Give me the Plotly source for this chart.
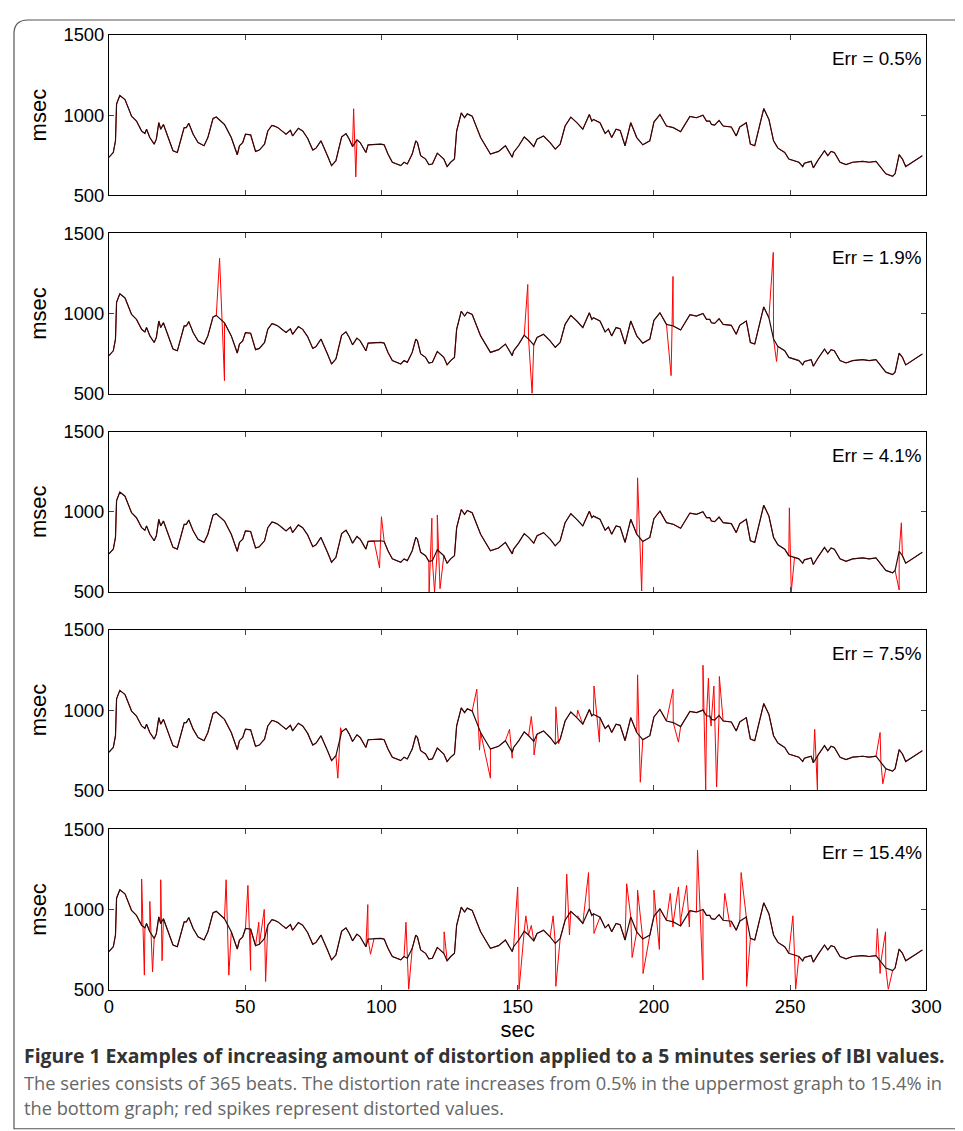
import plotly.graph_objects as go

# base IBI series (sec, msec)
base_t = [0,1.6,2.4,2.8,4,5.9,8.3,10.1,12,13.2,13.8,15,16.6,17.4,18.3,19,20,21.7,23.5,25.1,26,27.6,28.4,29.3,30.9,32.7,34.9,36.3,38.2,39.4,42.4,44.9,47.1,47.9,49.1,50.1,52,53.8,55.2,57.1,58.3,59.8,60.7,62,63.8,65,66.6,67.4,69.5,71.1,72.9,74.8,76,77.8,80.2,81.7,83.3,85.4,87,88.2,89.4,91,92.2,93.4,94.3,95.1,97.3,99.8,101,102.4,104,107.1,108.3,109.5,111.3,112.6,113.2,114.4,116.2,117.4,118.7,120.5,122.9,124.1,125.4,126.8,127.6,129.3,130.5,131.5,133.3,136.4,140,143,145.5,148,148.5,150.4,152.4,154,155.9,157.1,159.5,161.9,163.8,165.6,167.4,169.5,171.7,173.9,176.3,177.2,177.8,180.2,182.1,183.3,184.5,186.1,187.6,189.4,191.5,193.7,195.9,198.5,200,202.2,204.6,207.1,209.8,213.2,215.6,218,219.3,220.5,221.1,222.3,223.9,225.4,228.4,230.2,231.5,233.9,235.4,237,238.6,240.3,242.2,243.9,245.5,248,249.5,251.6,253.2,254.6,255.2,257.7,258.5,260.1,262.6,263.8,265,266.2,268.3,270.5,272.9,276.6,279,281.5,283.3,285.1,287.6,288.5,290,291.2,292.4,294.9,298.5]
base_v = [737,767,840,1070,1123,1097,994,963,901,885,912,860,819,850,953,912,942,860,778,767,829,922,922,949,881,829,809,860,979,988,942,860,753,809,829,881,877,774,782,819,901,936,932,922,897,881,905,870,918,901,856,782,794,840,747,685,716,864,885,850,804,846,829,788,767,815,819,819,815,757,706,685,706,695,757,840,829,747,726,691,695,763,726,679,706,726,901,1014,984,1008,994,860,757,774,809,737,767,809,864,840,804,850,870,829,788,819,932,988,953,912,1004,963,973,953,885,905,860,912,905,809,953,860,815,840,957,1004,932,922,897,992,984,1000,963,963,942,938,967,932,926,870,926,953,819,809,922,1041,973,840,794,767,726,716,706,679,700,712,671,716,778,747,774,767,706,691,706,712,706,712,675,634,619,634,753,726,679,706,747]

# distorted beats per panel (sec, msec)
spk1_t = [89.8,90.6]
spk1_v = [1040,615]
spk2_t = [40.6,42.4,153.7,155.3,206.3,207,243.8,245]
spk2_v = [1344,581,1181,500,612,1231,1381,700]
spk3_t = [99.3,100,117.5,118.5,119.5,120.5,121.5,194,195.5,249.7,250.4,290,290.8]
spk3_v = [650,969,500,960,500,980,520,1212,506,1025,500,512,931]
spk4_t = [84,85,135,136,140,147,148,155,156,164,165,172,178,180,194,195,207,209,218,219,220,221,222,223,224,259,260,283,284]
spk4_v = [575,890,1130,750,575,880,700,960,720,1020,790,1000,1150,800,1220,550,1130,800,1280,500,1200,900,1150,520,1210,880,500,860,540]
spk5_t = [12,13,15,16,19,19.5,43,44,51,52,55,57,57.5,95,96,109,110,123,124,150,150.5,153,155,163,164,168,169,172,176,178,190,192,194,196,200,202,206,207,209,210,212,213,216,218,226,228,232,234,251,252,282,283,285,286]
spk5_v = [1190,590,1050,610,1185,680,1185,590,1150,620,920,1000,550,1030,720,920,500,860,700,1140,500,960,900,960,520,1220,840,960,1230,850,1160,700,1120,600,1120,750,1100,890,1140,950,1150,890,1370,560,1100,890,1230,520,960,500,880,600,860,500]

labels = ["Err = 0.5%", "Err = 1.9%", "Err = 4.1%", "Err = 7.5%", "Err = 15.4%"]
spikes = [(spk1_t, spk1_v), (spk2_t, spk2_v), (spk3_t, spk3_v), (spk4_t, spk4_v), (spk5_t, spk5_v)]

S = 0.98
OX, OY = 12, 16
W = round((963 - OX) / S)
H = round((1131 - OY) / S)
def px(x): return ((x - OX) / S) / W
def py(y): return 1 - ((y - OY) / S) / H
def fs(s): return s / S

tops = [32, 230, 428, 626, 825]
ph = 160
fig = go.Figure()
for i, ((st, sv), lab) in enumerate(zip(spikes, labels)):
    n = "" if i == 0 else str(i + 1)
    pts = sorted(list(zip(base_t, base_v)) + list(zip(st, sv)))
    fig.add_trace(go.Scatter(x=[p[0] for p in pts], y=[p[1] for p in pts], mode="lines",
                             line=dict(color="#ff0000", width=1), xaxis="x" + n, yaxis="y" + n, showlegend=False))
    fig.add_trace(go.Scatter(x=base_t, y=base_v, mode="lines",
                             line=dict(color="#2a0a0a", width=1.2), xaxis="x" + n, yaxis="y" + n, showlegend=False))
    top = tops[i]
    dom = [py(top + ph), py(top)]
    last = i == 4
    fig.update_layout(**{
        "xaxis" + n: dict(domain=[px(108), px(926)], range=[0, 300], tickvals=[0, 50, 100, 150, 200, 250, 300],
                          showticklabels=last, ticks="inside", ticklen=5, mirror="ticks", showline=True,
                          linecolor="black", linewidth=1, showgrid=False, zeroline=False,
                          anchor="y" + n, title=dict(text="sec" if last else "", standoff=0),
                          tickfont=dict(size=fs(18), color="black")),
        "yaxis" + n: dict(domain=dom, range=[500, 1500], tickvals=[500, 1000, 1500], ticks="inside", ticklen=5,
                          mirror="ticks", showline=True, linecolor="black", linewidth=1, showgrid=False,
                          zeroline=False, anchor="x" + n, title=dict(text="msec", standoff=10),
                          tickfont=dict(size=fs(18), color="black")),
    })
    fig.add_annotation(text=lab, xref="x" + n + " domain", yref="y" + n + " domain", x=0.997, y=0.93,
                       xanchor="right", yanchor="top", showarrow=False, font=dict(size=fs(18.5), color="black"))

# caption
cap_font = "Open Sans"
fig.add_annotation(text="<b>Figure 1 Examples of increasing amount of distortion applied to a 5 minutes series of IBI values.</b>",
                   xref="paper", yref="paper", x=px(21), y=py(1051), xanchor="left", yanchor="middle",
                   showarrow=False, font=dict(family=cap_font, size=fs(19), color="#333333"))
fig.add_annotation(text="The series consists of 365 beats. The distortion rate increases from 0.5% in the uppermost graph to 15.4% in",
                   xref="paper", yref="paper", x=px(21), y=py(1078), xanchor="left", yanchor="middle",
                   showarrow=False, font=dict(family=cap_font, size=fs(17.9), color="#666666"))
fig.add_annotation(text="the bottom graph; red spikes represent distorted values.",
                   xref="paper", yref="paper", x=px(21), y=py(1103), xanchor="left", yanchor="middle",
                   showarrow=False, font=dict(family=cap_font, size=fs(17.9), color="#666666"))

# rounded frame
r = 14
x0, x1, y0, y1 = 13, 956, 17, 1124
path = (f"M {px(x0)},{py(y0 + r)} Q {px(x0)},{py(y0)} {px(x0 + r)},{py(y0)} L {px(x1)},{py(y0)} "
        f"L {px(x1)},{py(y1)} L {px(x0)},{py(y1)} Z")
fig.add_shape(type="path", path=path, xref="paper", yref="paper", line=dict(color="#555555", width=1.2))

fig.update_layout(width=W, height=H, margin=dict(l=0, r=0, t=0, b=0), plot_bgcolor="white",
                  paper_bgcolor="white", font=dict(family="Liberation Sans, Arial", size=fs(18), color="black"))
fig.write_html("out.html")
